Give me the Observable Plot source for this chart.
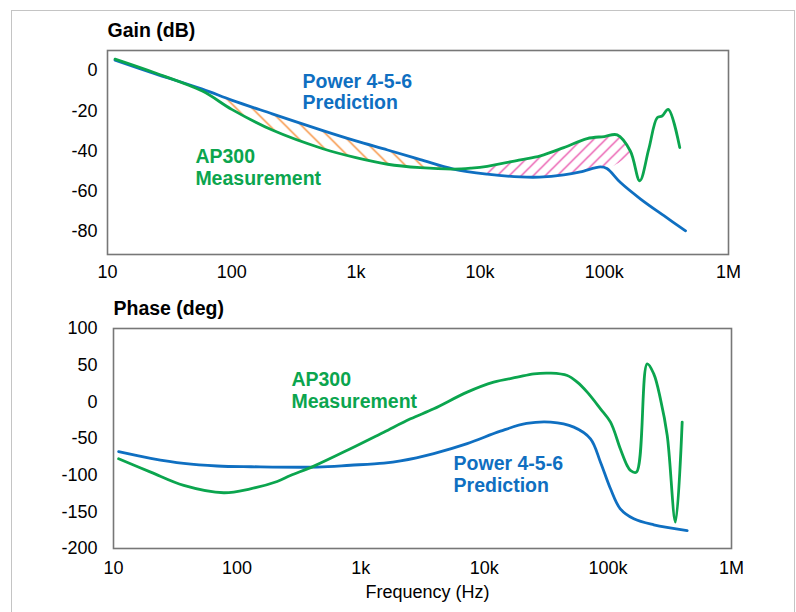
<!DOCTYPE html>
<html>
<head>
<meta charset="utf-8">
<script src="https://cdn.jsdelivr.net/npm/d3@7"></script>
<script src="https://cdn.jsdelivr.net/npm/@observablehq/plot@0.6"></script>
<style>
  html, body { margin: 0; padding: 0; background: #fff; }
  #wrap { position: relative; width: 796px; height: 612px; overflow: hidden; }
  #border { position: absolute; left: 11px; top: 10px; width: 782px; height: 640px;
            border: 1px solid #c4c4c4; border-bottom: none; pointer-events: none; }
  #gain, #phase { position: absolute; left: 0; }
  #gain { top: 0; }
  #phase { top: 290px; }
</style>
</head>
<body>
<div id="wrap">
  <div id="border"></div>
  <div id="gain"></div>
  <div id="phase"></div>
</div>
<script>
// ---------- data ----------
const tickValues = [10, 100, 1000, 10000, 100000, 1000000];
const tickLabels = ["10", "100", "1k", "10k", "100k", "1M"];
const gainTicks = [0, -20, -40, -60, -80];
const phaseTicks = [100, 50, 0, -50, -100, -150, -200];

// Gain (dB) — Power 4-5-6 Prediction
const gainFreqPred = [11.5, 24, 58, 101, 212, 550, 1000, 1800, 3300, 6100, 11400, 21100, 30000, 47200, 64300, 93100, 105000, 135000, 196000, 302000, 451000];
const gainPred     = [5.2, -1.5, -9.2, -14.8, -21.5, -30, -35, -39.5, -44.3, -49, -51.5, -52.9, -53, -51.9, -50.4, -47.9, -48.7, -55.7, -63.9, -72.2, -79.7];

// Gain (dB) — AP300 Measurement
const gainFreqMeas = [11.5, 24, 58, 100, 212, 550, 1000, 1800, 3300, 6100, 8500, 11400, 21100, 30600, 47200, 72800, 100000, 127000, 162000, 193000, 228000, 267000, 292000, 327000, 405000];
const gainMeas     = [5.7, -1.1, -10.2, -19.3, -29.6, -39, -43.3, -46.6, -48.3, -49, -48.5, -47.6, -44.4, -42.4, -38.3, -33.8, -32.8, -32, -40, -54.8, -39.1, -23.4, -22.6, -19.3, -38.3];

// Phase (deg) — Power 4-5-6 Prediction
const phaseFreqPred = [11, 20, 37, 69, 130, 445, 826, 1540, 2100, 3900, 7270, 13500, 22000, 34400, 53000, 72300, 87100, 105000, 126000, 162000, 235000, 438000];
const phasePred     = [-68, -77, -84, -87.5, -88.5, -89, -86.5, -83.5, -80.5, -70.5, -57, -40, -29.5, -27.7, -34.5, -50.4, -82.3, -118.6, -145.9, -159.5, -167.7, -175.5];

// Phase (deg) — AP300 Measurement
const phaseFreqMeas = [11, 20, 37, 78, 128, 211, 270, 418, 826, 1538, 2529, 3900, 7270, 11900, 18500, 25200, 34400, 46900, 56500, 68000, 87100, 105000, 126000, 143000, 152000, 170000, 208000, 235000, 266000, 302000, 352000, 399000];
const phaseMeas     = [-77.7, -95.9, -114, -124, -118.6, -108.6, -100.5, -87.7, -64, -41.4, -23.2, -9.5, 13.2, 26.8, 33.6, 38.2, 39.1, 35.9, 26.8, 13.2, -9.5, -27.7, -64, -86.8, -93.6, -95.9, 51.8, 38.2, 4.1, -45.9, -164, -27.7];

// ---------- styling ----------
const BLUE = "#0F6FC1";
const GREEN = "#0BA54E";
const ORANGE = "#F5862A";
const PINK = "#E5309A";
const FONT = "'Liberation Sans', Arial, Helvetica, sans-serif";
const tickMap = new Map(tickValues.map((v, i) => [v, tickLabels[i]]));
const rows = (fs, vs) => fs.map((f, i) => ({f, v: vs[i]}));

const gPred = rows(gainFreqPred, gainPred);
const gMeas = rows(gainFreqMeas, gainMeas);
const pPred = rows(phaseFreqPred, phasePred);
const pMeas = rows(phaseFreqMeas, phaseMeas);

// hatched regions between the two gain curves (polygons from the series)
const inRange = (lo, hi) => d => d.f >= lo && d.f <= hi;
const orangePoly = gPred.filter(inRange(58, 6100)).concat(gMeas.filter(inRange(58, 6100)).reverse());
const pinkPoly = gMeas.filter(inRange(11400, 162000)).concat(gPred.filter(inRange(11400, 105000)).reverse());

const baseStyle = {fontFamily: FONT, fontSize: "18px", color: "#000", background: "transparent", overflow: "visible"};
const textStyle = {fontFamily: FONT};
const plain = d => String(d);

// ---------- gain panel ----------
const gain = Plot.plot({
  width: 796, height: 290,
  marginLeft: 107, marginRight: 68, marginTop: 50, marginBottom: 36,
  x: {type: "log", domain: [10, 1e6]},
  y: {domain: [-91.5, 10]},
  style: baseStyle,
  marks: [
    Plot.line(orangePoly, {x: "f", y: "v", fill: "url(#hatchOrange)", stroke: "none", curve: "catmull-rom"}),
    Plot.line(pinkPoly, {x: "f", y: "v", fill: "url(#hatchPink)", stroke: "none", curve: "catmull-rom"}),
    Plot.frame({stroke: "#777", strokeWidth: 1.6}),
    Plot.line(gPred, {x: "f", y: "v", stroke: BLUE, strokeWidth: 2.8, curve: "catmull-rom"}),
    Plot.line(gMeas, {x: "f", y: "v", stroke: GREEN, strokeWidth: 2.8, curve: "catmull-rom"}),
    Plot.axisX({ticks: tickValues, tickFormat: d => tickMap.get(d), tickSize: 0, tickPadding: 11, label: null, fontSize: 18}),
    Plot.axisY({ticks: gainTicks, tickFormat: plain, tickSize: 0, tickPadding: 10, label: null, fontSize: 18}),
    Plot.text(["Gain (dB)"], {frameAnchor: "top-left", lineAnchor: "middle", dy: -20, fontSize: 19.5, fontWeight: "bold", ...textStyle}),
    Plot.text(["Power 4-5-6\nPrediction"], {x: 372, y: -10.4, textAnchor: "start", lineAnchor: "middle", lineHeight: 1.1, fill: BLUE, fontSize: 19.5, fontWeight: "bold", ...textStyle}),
    Plot.text(["AP300\nMeasurement"], {x: 51, y: -48, textAnchor: "start", lineAnchor: "middle", lineHeight: 1.15, fill: GREEN, fontSize: 19.5, fontWeight: "bold", ...textStyle})
  ]
});

// hatch pattern definitions
const defs = d3.select(gain).insert("defs", ":first-child");
const po = defs.append("pattern").attr("id", "hatchOrange").attr("patternUnits", "userSpaceOnUse").attr("width", 16).attr("height", 16);
po.append("path").attr("d", "M0,0L16,16M-2,14L2,18M14,-2L18,2").attr("stroke", ORANGE).attr("stroke-width", 1.3).attr("fill", "none");
const pp = defs.append("pattern").attr("id", "hatchPink").attr("patternUnits", "userSpaceOnUse").attr("width", 12).attr("height", 12);
pp.append("path").attr("d", "M0,12L12,0M-2,2L2,-2M10,14L14,10").attr("stroke", PINK).attr("stroke-width", 1.2).attr("fill", "none");

document.getElementById("gain").appendChild(gain);

// ---------- phase panel ----------
const phase = Plot.plot({
  width: 796, height: 322,
  marginLeft: 113, marginRight: 65, marginTop: 38, marginBottom: 64,
  x: {type: "log", domain: [10, 1e6]},
  y: {domain: [-200, 100]},
  style: baseStyle,
  marks: [
    Plot.frame({stroke: "#777", strokeWidth: 1.6}),
    Plot.line(pPred, {x: "f", y: "v", stroke: BLUE, strokeWidth: 2.8, curve: "catmull-rom"}),
    Plot.line(pMeas, {x: "f", y: "v", stroke: GREEN, strokeWidth: 2.8, curve: "catmull-rom"}),
    Plot.axisX({ticks: tickValues, tickFormat: d => tickMap.get(d), tickSize: 0, tickPadding: 12.5, label: null, fontSize: 18}),
    Plot.axisY({ticks: phaseTicks, tickFormat: plain, tickSize: 0, tickPadding: 16, label: null, fontSize: 18}),
    Plot.text(["Phase (deg)"], {frameAnchor: "top-left", lineAnchor: "middle", dy: -20, fontSize: 19.5, fontWeight: "bold", ...textStyle}),
    Plot.text(["Frequency (Hz)"], {frameAnchor: "bottom", lineAnchor: "middle", dy: 44, dx: 5, fontSize: 18, ...textStyle}),
    Plot.text(["AP300\nMeasurement"], {x: 275, y: 16.1, textAnchor: "start", lineAnchor: "middle", lineHeight: 1.15, fill: GREEN, fontSize: 19.5, fontWeight: "bold", ...textStyle}),
    Plot.text(["Power 4-5-6\nPrediction"], {x: 5640, y: -98.4, textAnchor: "start", lineAnchor: "middle", lineHeight: 1.15, fill: BLUE, fontSize: 19.5, fontWeight: "bold", ...textStyle})
  ]
});
document.getElementById("phase").appendChild(phase);
</script>
</body>
</html>
